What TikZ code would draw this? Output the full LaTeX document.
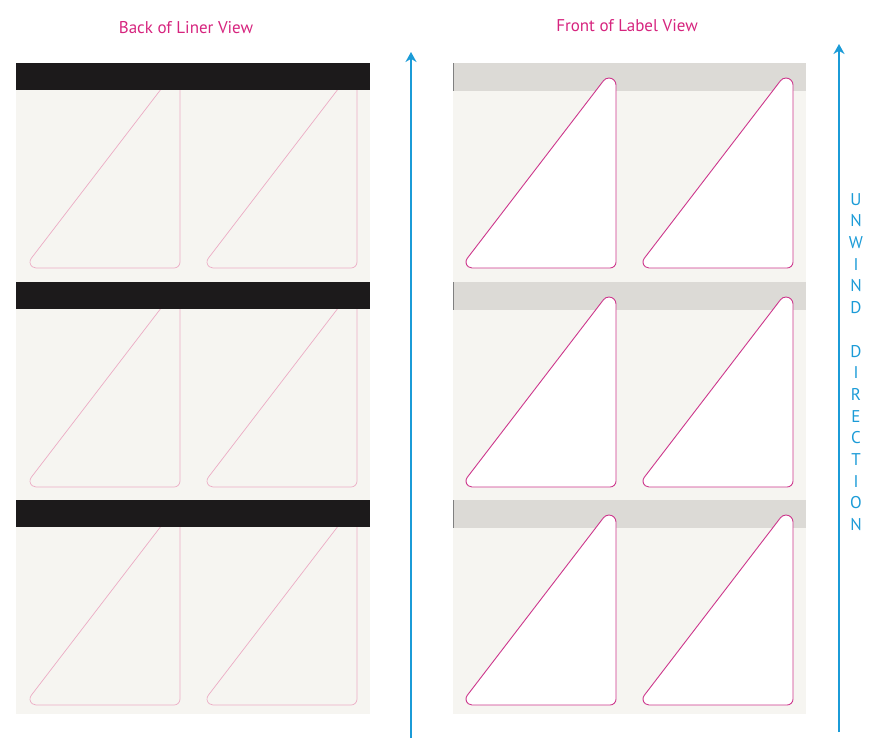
\documentclass[tikz,border=0pt]{standalone}
\usepackage{fontspec}
\setmainfont{PT Sans}
\usetikzlibrary{positioning,arrows.meta}

\definecolor{titlepink}{RGB}{214,36,126}
\definecolor{cutpink}{RGB}{205,55,140}
\definecolor{cutlight}{RGB}{236,172,196}
\definecolor{arrowblue}{RGB}{27,155,215}
\definecolor{linerbg}{RGB}{246,245,241}
\definecolor{barblack}{RGB}{28,26,27}
\definecolor{bargray}{RGB}{220,218,214}

\tikzset{
  heading/.style={text=titlepink, font=\fontsize{17}{20}\selectfont},
  backcut/.style={draw=cutlight, line width=0.7pt},
  frontcut/.style={draw=cutpink, fill=white, line width=0.9pt},
  unwind/.style={draw=arrowblue, line width=1.6pt, -{Stealth[length=10pt,width=11pt]}}
}

% right angle triangle label, right edge at #1, bottom edge at #2
\newcommand{\labelcut}[3]{%
  \draw[#3] (#1-144,#2) -- (#1-6,#2) arc[start angle=90, end angle=0, radius=6]
    -- (#1,#2-183) arc[start angle=0, end angle=-142.3, radius=7]
    -- (#1-148.75,#2-9.67) arc[start angle=217.7, end angle=90, radius=6] -- cycle;}

\begin{document}
\begin{tikzpicture}[x=1pt,y=-1pt]
    \useasboundingbox (0,0) rectangle (877,748);

    \node[heading](backtitle) at (186,28) {Back of Liner View};
    \node[heading](fronttitle) at (627,26) {Front of Label View};

    % liner strips
    \fill[linerbg] (16,63) rectangle (370,714);
    \fill[linerbg] (453,63) rectangle (806,714);

    % three rows of labels
    \foreach \y in {0,219,437} {
      \labelcut{180}{268+\y}{backcut}
      \labelcut{357}{268+\y}{backcut}
      \fill[barblack] (16,63+\y) rectangle (370,90+\y);

      \fill[bargray] (453,63+\y) rectangle (806,91+\y);
      \draw[gray, line width=0.8pt] (453.4,63+\y) -- (453.4,91+\y);
      \labelcut{616}{268+\y}{frontcut}
      \labelcut{793}{268+\y}{frontcut}
    }

    \coordinate (leftfoot) at (411,738);
    \coordinate (lefttip) at (411,52);
    \coordinate (rightfoot) at (839,732);
    \coordinate (righttip) at (839,44);
    \draw[unwind] (leftfoot) -- (lefttip);
    \draw[unwind] (rightfoot) -- (righttip);

    \node[text=arrowblue, align=center, font=\fontsize{17}{21.7}\selectfont](direction) at (856,362)
      {U\\N\\W\\I\\N\\D\\~\\D\\I\\R\\E\\C\\T\\I\\O\\N};
  \end{tikzpicture}
\end{document}
